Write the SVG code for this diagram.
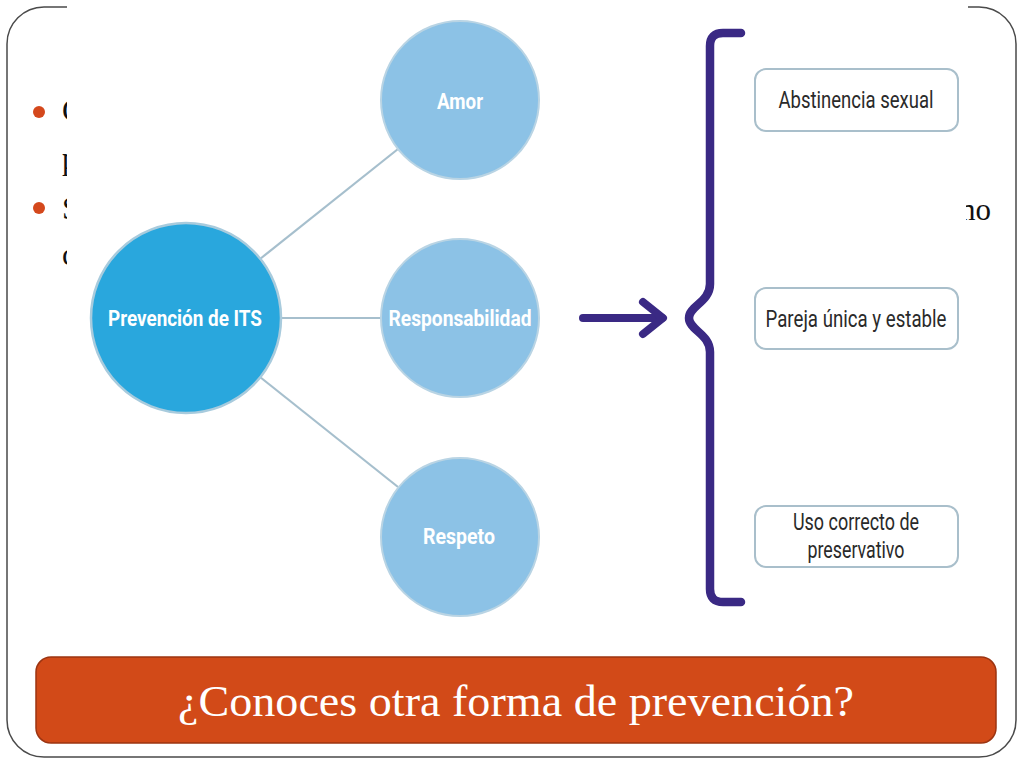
<svg xmlns="http://www.w3.org/2000/svg" width="1024" height="768" viewBox="0 0 1024 768">
<style>
.frame{fill:none;stroke:#4a4a4a;stroke-width:1.5}
.bt{font-family:"Liberation Serif","Times New Roman",serif;font-size:31px;fill:#111}
.bullet{fill:#D4481C}
.main{fill:#29A7DD;stroke:#A8CBDD;stroke-width:2.5}
.sub{fill:#8CC2E6;stroke:#B9D4E4;stroke-width:2}
.ct{font-family:Roboto,"Liberation Sans",Arial,sans-serif;font-weight:bold;font-size:22px;fill:#fff;text-anchor:middle}
.link{stroke:#A6BFCD;stroke-width:2.2;fill:none}
.purple{stroke:#3A2984;fill:none;stroke-linecap:round;stroke-linejoin:round}
.box{fill:#fff;stroke:#A9BFCB;stroke-width:2}
.bx{font-family:Roboto,"Liberation Sans",Arial,sans-serif;font-size:23px;fill:#2a2a2a;text-anchor:middle}
.banner{fill:#D24A18;stroke:#9C3411;stroke-width:1.5}
.bn{font-family:"Liberation Serif","Times New Roman",serif;font-size:45px;fill:#fff;text-anchor:middle}
</style>
<defs>
<clipPath id="clipL"><rect x="0" y="0" width="67" height="768"/></clipPath>
<clipPath id="clipR"><rect x="966" y="0" width="58" height="768"/></clipPath>
</defs>
<rect x="0" y="0" width="1024" height="768" fill="#fff"/>
<g id="slide-frame">
<rect class="frame" x="7" y="7" width="1009" height="750" rx="37" ry="37"/>
<rect x="67" y="0" width="901" height="20" fill="#fff"/>
</g>
<g id="bullets">
<circle class="bullet" cx="39" cy="112" r="6"/>
<circle class="bullet" cx="39" cy="208" r="6"/>
<g clip-path="url(#clipL)">
<text class="bt" x="62" y="121">C</text>
<text class="bt" x="62" y="169">p</text>
<text class="bt" x="62" y="219">S</text>
<text class="bt" x="62" y="265">c</text>
</g>
<g clip-path="url(#clipR)">
<text class="bt" x="991" y="220" text-anchor="end" font-size="33">no</text>
</g>
</g>
<g id="connectors">
<line class="link" x1="260" y1="259" x2="398" y2="149"/>
<line class="link" x1="281" y1="318" x2="381" y2="318"/>
<line class="link" x1="260" y1="377" x2="398" y2="487"/>
<g id="arrow">
<line class="purple" x1="583" y1="318" x2="662" y2="318" stroke-width="8"/>
<polyline class="purple" points="643,302 663,318 643,334" stroke-width="8"/>
</g>
<path id="brace" class="purple" stroke-width="8.5" d="M741,33 H723 Q710,33 710,46 V284 C710,302 689,306 689,318 C689,330 710,334 710,352 V589 Q710,602 723,602 H741"/>
</g>
<g id="node-prevencion">
<circle class="main" cx="186" cy="318" r="95"/>
<text class="ct" x="185" y="326" textLength="154" lengthAdjust="spacingAndGlyphs">Prevención de ITS</text>
</g>
<g id="node-amor">
<circle class="sub" cx="460" cy="100" r="79"/>
<text class="ct" x="460" y="109" textLength="46" lengthAdjust="spacingAndGlyphs">Amor</text>
</g>
<g id="node-responsabilidad">
<circle class="sub" cx="460" cy="318" r="79"/>
<text class="ct" x="460" y="326" textLength="143" lengthAdjust="spacingAndGlyphs">Responsabilidad</text>
</g>
<g id="node-respeto">
<circle class="sub" cx="460" cy="537" r="79"/>
<text class="ct" x="459" y="544" textLength="72" lengthAdjust="spacingAndGlyphs">Respeto</text>
</g>
<g id="box-abstinencia">
<rect class="box" x="755" y="69" width="203" height="62" rx="11"/>
<text class="bx" x="856" y="108" textLength="155" lengthAdjust="spacingAndGlyphs">Abstinencia sexual</text>
</g>
<g id="box-pareja">
<rect class="box" x="755" y="288" width="203" height="61" rx="11"/>
<text class="bx" x="856" y="327" textLength="181" lengthAdjust="spacingAndGlyphs">Pareja única y estable</text>
</g>
<g id="box-uso">
<rect class="box" x="755" y="506" width="203" height="61" rx="11"/>
<text class="bx" x="856" y="530" textLength="126" lengthAdjust="spacingAndGlyphs">Uso correcto de</text>
<text class="bx" x="856" y="558" textLength="97" lengthAdjust="spacingAndGlyphs">preservativo</text>
</g>
<g id="banner">
<rect class="banner" x="36" y="657" width="960" height="86" rx="15"/>
<text class="bn" x="516" y="716" textLength="676" lengthAdjust="spacingAndGlyphs">¿Conoces otra forma de prevención?</text>
</g>
</svg>
